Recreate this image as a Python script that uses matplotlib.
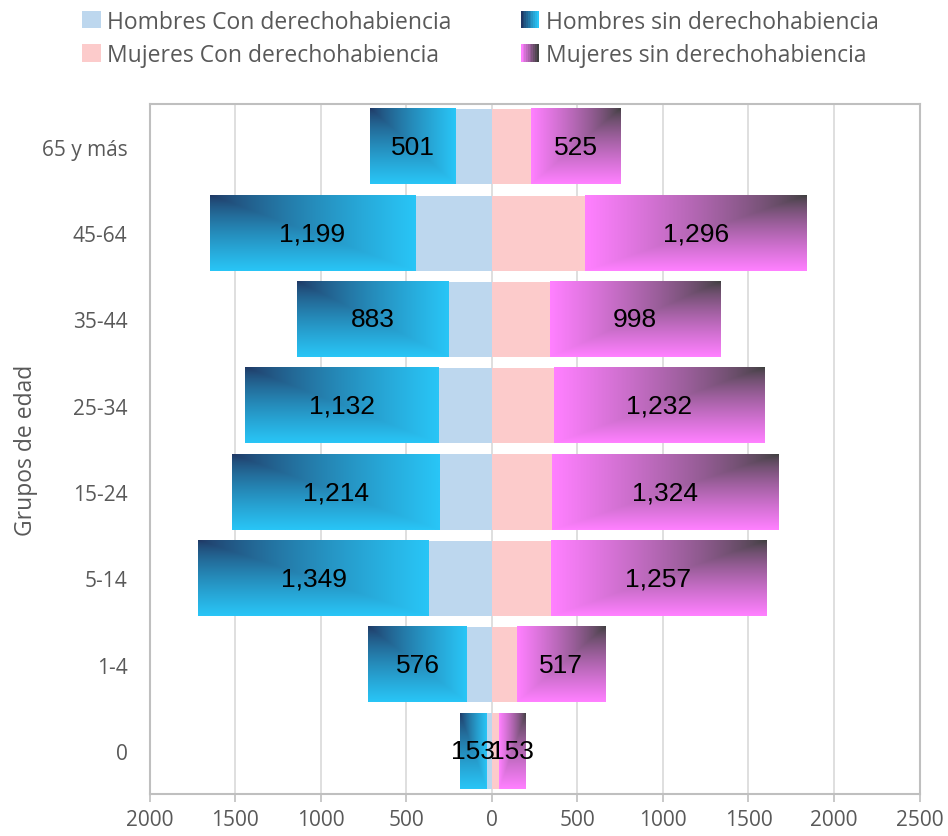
import numpy as np
import matplotlib.pyplot as plt
from matplotlib.patches import Rectangle
from matplotlib.legend_handler import HandlerBase
from matplotlib.colors import to_rgb

plt.rcParams['font.family'] = ['Open Sans', 'DejaVu Sans']

grupos = ['0', '1-4', '5-14', '15-24', '25-34', '35-44', '45-64', '65 y más']
h_con = [35, 146, 368, 304, 310, 257, 450, 210]
h_sin = [153, 576, 1349, 1214, 1132, 883, 1199, 501]
m_con = [41, 146, 345, 350, 362, 339, 544, 228]
m_sin = [153, 517, 1257, 1324, 1232, 998, 1296, 525]

c_hcon = '#BDD7EE'
c_mcon = '#FCCBCB'
h_dark, h_light = '#203864', '#29C5F6'
m_dark, m_light = '#404040', '#FF80FF'


def gradient(dark, light, corner, n=60):
    # corner path gradient, dark at the top corner
    u = np.linspace(0, 1, n)[None, :]
    v = np.linspace(0, 1, n)[:, None]
    if corner == 'right':
        u = u[:, ::-1]
    t = np.clip(np.maximum(u, v) ** 0.75, 0, 1)[..., None]
    d = np.array(to_rgb(dark))
    l = np.array(to_rgb(light))
    return d * (1 - t) + l * t


class GradHandler(HandlerBase):
    def __init__(self, dark, light, flip=False):
        super().__init__()
        self.dark, self.light, self.flip = dark, light, flip

    def create_artists(self, legend, orig, xd, yd, w, h, fs, trans):
        arts = []
        s = h
        x0 = xd + (w - s) / 2
        n = 10
        for i in range(n):
            t = i / (n - 1)
            if self.flip:
                t = 1 - t
            c = np.array(to_rgb(self.dark)) * (1 - t) + np.array(to_rgb(self.light)) * t
            arts.append(Rectangle((x0 + i * s / n, -yd), s / n + 0.3, s, fc=c, ec='none', transform=trans))
        return arts


fig = plt.figure(figsize=(9.48, 8.37), dpi=100)
ax = fig.add_axes([0.158, 0.050, 0.812, 0.825])

y = np.arange(len(grupos))
hgt = 0.87
hc = np.array(h_con)
hs = np.array(h_sin)
mc = np.array(m_con)
ms = np.array(m_sin)

ax.barh(y, -hc, height=hgt, color=c_hcon, zorder=2)
ax.barh(y, mc, height=hgt, color=c_mcon, zorder=2)
bh = ax.barh(y, -hs, left=-hc, height=hgt, color='none', zorder=2)
bm = ax.barh(y, ms, left=mc, height=hgt, color='none', zorder=2)

for bars, vals, dark, light, corner in [(bh, hs, h_dark, h_light, 'left'),
                                        (bm, ms, m_dark, m_light, 'right')]:
    for b, v in zip(bars, vals):
        x0, y0, w, h = b.get_x(), b.get_y(), b.get_width(), b.get_height()
        xl, xr = min(x0, x0 + w), max(x0, x0 + w)
        ax.imshow(gradient(dark, light, corner), extent=[xl, xr, y0, y0 + h],
                  aspect='auto', origin='upper', zorder=2, interpolation='bilinear')
        ax.text((xl + xr) / 2, y0 + h / 2, f'{v:,}', ha='center', va='center',
                fontsize=19, family='Liberation Sans', color='black', zorder=4)

ax.set_xlim(-2000, 2500)
ax.set_ylim(-0.5, len(grupos) - 0.5)
ticks = np.arange(-2000, 2501, 500)
ax.set_xticks(ticks)
ax.set_xticklabels([str(abs(t)) for t in ticks])
ax.set_yticks(y)
ax.set_yticklabels(grupos)
ax.tick_params(axis='x', colors='#BFBFBF', labelcolor='#595959', labelsize=15, length=6, width=1.2, pad=5)
ax.tick_params(axis='y', length=0, labelcolor='#595959', labelsize=15, pad=16)
ax.grid(axis='x', color='#D9D9D9', lw=1.2, zorder=0)
ax.set_axisbelow(True)
for s in ax.spines.values():
    s.set_color('#BFBFBF')
    s.set_linewidth(1.5)
ax.set_ylabel('Grupos de edad', fontsize=16.5, color='#595959', labelpad=3)

handles = [Rectangle((0, 0), 1, 1, fc=c_hcon), Rectangle((0, 0), 1, 1, fc=c_mcon),
           Rectangle((0, 0), 1, 1, fc=h_light), Rectangle((0, 0), 1, 1, fc=m_light)]
labels = ['Hombres Con derechohabiencia', 'Mujeres Con derechohabiencia',
          'Hombres sin derechohabiencia', 'Mujeres sin derechohabiencia']
hmap = {handles[2]: GradHandler(h_dark, h_light), handles[3]: GradHandler(m_dark, m_light, flip=True)}
fig.legend(handles, labels, ncol=2, loc='upper left', bbox_to_anchor=(0.065, 1.012),
           frameon=False, fontsize=16.5, labelcolor='#595959', handler_map=hmap,
           handlelength=0.8, handleheight=0.8, handletextpad=0.3, columnspacing=3.0,
           labelspacing=0.4)

fig.savefig('out.png', dpi=100)
